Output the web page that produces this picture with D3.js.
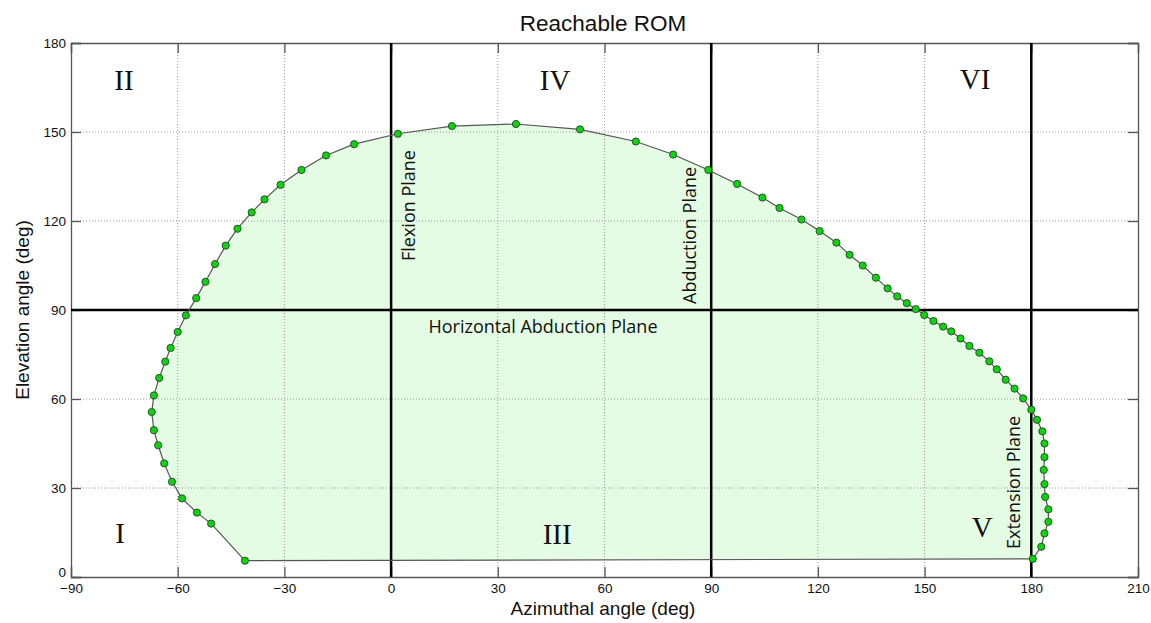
<!DOCTYPE html>
<html><head><meta charset="utf-8">
<script src="https://cdn.jsdelivr.net/npm/d3@7"></script>
<style>body{margin:0;background:#fff}svg{display:block}</style>
</head><body><svg id="c" width="1151" height="623"></svg>
<script>
// Boundary points of reachable ROM (azimuth deg, elevation deg), traversed around the region
const azimuth = [-41.1,-50.6,-54.6,-58.8,-61.6,-63.8,-65.5,-66.7,-67.3,-66.7,-65.2,-63.5,-62.0,-60.0,-57.7,-54.8,-52.2,-49.5,-46.5,-43.2,-39.2,-35.6,-31.1,-25.2,-18.3,-10.4,1.9,17.1,35.1,53.1,68.8,79.3,89.2,97.3,104.4,109.2,115.4,120.5,125.2,128.9,132.6,136.3,139.6,142.3,145.0,147.5,149.9,152.5,155.2,157.5,160.1,162.6,165.4,168.2,170.3,172.8,175.3,177.7,180.0,181.6,183.1,183.7,183.7,183.5,183.7,183.9,184.8,184.8,183.7,182.8,180.4];
const elevation = [5.5,18.0,21.7,26.5,32.1,38.3,44.4,49.5,55.6,61.2,67.1,72.6,77.2,82.6,88.2,94.0,99.5,105.5,111.7,117.4,122.9,127.3,132.2,137.2,142.1,145.9,149.4,152.0,152.7,150.9,146.8,142.4,137.2,132.5,127.9,124.4,120.5,116.6,112.7,108.6,105.0,100.9,97.3,94.6,92.3,90.3,88.3,86.3,84.4,82.8,80.4,77.9,75.6,72.7,70.0,66.5,63.5,60.2,56.4,53.0,49.1,45.0,40.4,36.1,31.3,27.0,22.8,18.6,14.7,10.2,6.1];
const xTicks = [-90,-60,-30,0,30,60,90,120,150,180,210];
const yTicks = [0,30,60,90,120,150,180];
const planeAzimuths = [0, 90, 180];
const planeElevation = 90;
const regionLabels = ["I","II","III","IV","V","VI"];
const regionX = [-76.2,-75.1,46.7,46.1,166.2,164.2];
const regionY = [11.5,164.2,11.0,164.2,13.5,164.6];
const planeLabels = ["Flexion Plane","Abduction Plane","Extension Plane"];

const svg = d3.select("#c");
const L=71, R=1138, T=43, B=577;
const x = d3.scaleLinear().domain([-90,210]).range([L,R]);
const y = d3.scaleLinear().domain([0,180]).range([B,T]);
const pts = azimuth.map((a,i)=>[a, elevation[i]]);

// Fill
svg.append("path").datum(pts)
  .attr("d", d3.line().x(d=>x(d[0])).y(d=>y(d[1])).curve(d3.curveLinearClosed))
  .attr("fill","#e4fbe4").attr("stroke","none");

// Grid
const grid = svg.append("g");
grid.selectAll(".gx").data(xTicks.slice(1,-1)).join("line")
  .attr("x1",d=>x(d)).attr("x2",d=>x(d)).attr("y1",T).attr("y2",B)
  .attr("stroke","#9a9a9a").attr("stroke-width",1).attr("stroke-dasharray","1,2");
grid.selectAll(".gy").data(yTicks.slice(1,-1)).join("line")
  .attr("y1",d=>y(d)).attr("y2",d=>y(d)).attr("x1",L).attr("x2",R)
  .attr("stroke","#9a9a9a").attr("stroke-width",1).attr("stroke-dasharray","1,2");

// Axes (inward ticks on all sides)
const fontAx = "'Liberation Sans', Arial, sans-serif";
const axB = svg.append("g").attr("transform",`translate(0,${B})`)
  .call(d3.axisBottom(x).tickValues(xTicks).tickSize(-10).tickPadding(6).tickFormat(d3.format("d")));
const axT = svg.append("g").attr("transform",`translate(0,${T})`)
  .call(d3.axisTop(x).tickValues(xTicks).tickSize(-10).tickFormat(""));
const axL = svg.append("g").attr("transform",`translate(${L},0)`)
  .call(d3.axisLeft(y).tickValues(yTicks).tickSize(-10).tickPadding(5).tickFormat(d3.format("d")));
const axR = svg.append("g").attr("transform",`translate(${R},0)`)
  .call(d3.axisRight(y).tickValues(yTicks).tickSize(-10).tickFormat(""));
[axB,axT,axL,axR].forEach(g=>{
  g.selectAll("path.domain").attr("stroke","#555").attr("stroke-width",1.3);
  g.selectAll(".tick line").attr("stroke","#555").attr("stroke-width",1.3);
  g.selectAll("text").attr("font-family",fontAx).attr("font-size",13.5).attr("fill","#111");
});
axB.selectAll("text").attr("dy","0.71em");
// shift y-axis "0" up slightly as in reference to avoid overlapping "-90"
axL.selectAll(".tick text").filter(d=>d===0).attr("dy","-0.05em");

// Plane lines
svg.selectAll(".pv").data(planeAzimuths).join("line")
  .attr("x1",d=>x(d)).attr("x2",d=>x(d)).attr("y1",T).attr("y2",B)
  .attr("stroke","#000").attr("stroke-width",2.5);
svg.append("line").attr("x1",L).attr("x2",R).attr("y1",y(planeElevation)).attr("y2",y(planeElevation))
  .attr("stroke","#000").attr("stroke-width",2.5);

// Boundary line
svg.append("path").datum(pts)
  .attr("d", d3.line().x(d=>x(d[0])).y(d=>y(d[1])).curve(d3.curveLinearClosed))
  .attr("fill","none").attr("stroke","#555").attr("stroke-width",1.2);

// Dots
svg.selectAll(".dot").data(pts.slice(0)).join("circle")
  .attr("cx",d=>x(d[0])).attr("cy",d=>y(d[1])).attr("r",3.6)
  .attr("fill","#12d012").attr("stroke","#1f4a1f").attr("stroke-width",0.9);

// Region labels
svg.selectAll(".rl").data(regionLabels).join("text")
  .attr("x",(d,i)=>x(regionX[i])).attr("y",(d,i)=>y(regionY[i]))
  .attr("text-anchor","middle").attr("font-family","'Liberation Serif','Times New Roman',serif")
  .attr("font-size",29).attr("fill","#111").text(d=>d);

// Plane labels
const pf = "'Open Sans','Noto Sans',sans-serif";
const vertLab = [[planeLabels[0], 415, 261],[planeLabels[1], 696, 304],[planeLabels[2], 1020, 549]];
svg.selectAll(".vl").data(vertLab).join("text")
  .attr("transform",d=>`translate(${d[1]},${d[2]}) rotate(-90)`)
  .attr("font-family",pf).attr("font-size",18).attr("fill","#111").text(d=>d[0]);
svg.append("text").attr("x",543).attr("y",333).attr("text-anchor","middle")
  .attr("font-family",pf).attr("font-size",18).attr("fill","#111").text("Horizontal Abduction Plane");

// Titles
svg.append("text").attr("x",603).attr("y",30.5).attr("text-anchor","middle")
  .attr("font-family",fontAx).attr("font-size",22.5).attr("fill","#111").text("Reachable ROM");
svg.append("text").attr("x",603).attr("y",615).attr("text-anchor","middle")
  .attr("font-family",fontAx).attr("font-size",19).attr("fill","#111").text("Azimuthal angle (deg)");
svg.append("text").attr("transform",`translate(29,310) rotate(-90)`).attr("text-anchor","middle")
  .attr("font-family",fontAx).attr("font-size",19).attr("fill","#111").text("Elevation angle (deg)");
</script></body></html>
